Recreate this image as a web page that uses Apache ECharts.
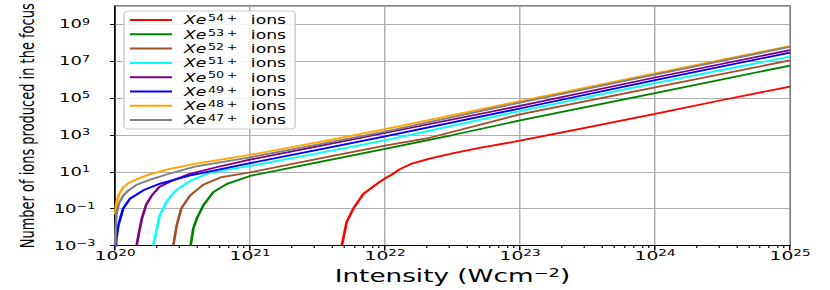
<!DOCTYPE html>
<html><head><meta charset="utf-8">
<script src="https://cdn.jsdelivr.net/npm/echarts@6/dist/echarts.min.js"></script>
<style>
html,body{margin:0;padding:0;background:#fff;overflow:hidden;}
#c{width:553.33px;height:290px;transform:scaleX(1.5);transform-origin:0 0;}
</style></head><body><div id="c"></div>
<script>
// ---- data ----
const seriesNames = ['Xe54+ ions','Xe53+ ions','Xe52+ ions','Xe51+ ions','Xe50+ ions','Xe49+ ions','Xe48+ ions','Xe47+ ions'];
const seriesColors = ['#ff0000','#008000','#a0522d','#00ffff','#800080','#0000ff','#ffa500','#808080'];

const intensityXe54 = [4.786e21, 5.2e21, 5.821e21, 6.918e21, 8.71e21, 1e22, 1.096e22, 1.288e22, 1.585e22, 2.138e22, 3.162e22, 5.012e22, 1e23, 3.162e23, 1e24, 3.162e24, 1e25];
const ionsXe54      = [1e-3, 0.019, 0.1, 0.646, 2.24, 4.47, 6.3, 14.1, 28.2, 52.5, 100, 200, 490, 2630, 1.41e4, 7.94e4, 4.27e5];

const intensityXe53 = [3.631e20, 3.802e20, 4.027e20, 4.508e20, 5.346e20, 6.761e20, 1e21, 3.162e21, 1e22, 3.162e22, 1e23, 1e24, 1e25];
const ionsXe53      = [1e-3, 8.3e-3, 0.0288, 0.151, 0.794, 2.24, 6.03, 33.1, 178, 1000, 6166, 1.86e5, 5.89e6];

const intensityXe52 = [2.704e20, 2.864e20, 3.090e20, 3.597e20, 4.508e20, 6.026e20, 1e21, 3.162e21, 1e22, 2.138e22, 1e23, 1e24, 1e25];
const ionsXe52      = [1e-3, 0.0126, 0.1, 0.525, 2.0, 5.01, 9.33, 50.1, 263, 708, 1.32e4, 3.8e5, 1.12e7];

const intensityXe51 = [1.923e20, 2.042e20, 2.138e20, 2.399e20, 2.630e20, 2.884e20, 3.597e20, 5.012e20, 1e21, 3.162e21, 1e22, 1e23, 1e24, 1e25];
const ionsXe51      = [1e-3, 8.3e-3, 0.04, 0.229, 0.562, 1.12, 3.16, 8.91, 20.9, 100, 513, 2.0e4, 6.46e5, 1.78e7];

const intensityXe50 = [1.445e20, 1.514e20, 1.585e20, 1.698e20, 1.862e20, 2.138e20, 2.692e20, 3.548e20, 5.623e20, 1e21, 3.162e21, 1e22, 1e23, 1e24, 1e25];
const ionsXe50      = [1e-3, 6.3e-3, 0.0316, 0.158, 0.5, 1.58, 3.55, 7.59, 17.8, 45.7, 240, 1288, 3.8e4, 1.32e6, 4.07e7];

const intensityXe49 = [1.012e20, 1.023e20, 1.059e20, 1.148e20, 1.288e20, 1.622e20, 2.138e20, 3.548e20, 5.623e20, 1e21, 3.162e21, 1e22, 1e23, 1e24, 1e25];
const ionsXe49      = [6.3e-4, 2.5e-3, 0.0126, 0.1, 0.347, 1.0, 2.24, 6.31, 12.6, 29.5, 158, 851, 2.75e4, 9.55e5, 2.95e7];

const intensityXe48 = [1e20, 1.023e20, 1.072e20, 1.148e20, 1.259e20, 1.445e20, 1.778e20, 2.512e20, 3.981e20, 1e21, 3.162e21, 1e22, 1e23, 1e24, 1e25];
const ionsXe48      = [0.05, 0.2, 0.63, 1.41, 2.51, 3.98, 7.08, 14.1, 28.2, 83.2, 398, 2089, 6.92e4, 2.24e6, 6.76e7];

const intensityXe47 = [1e20, 1.023e20, 1.072e20, 1.148e20, 1.259e20, 1.445e20, 1.778e20, 2.512e20, 3.981e20, 1e21, 3.162e21, 1e22, 1e23, 1e24, 1e25];
const ionsXe47      = [1e-3, 0.05, 0.2, 0.5, 1.0, 2.0, 3.55, 7.94, 20, 61.7, 302, 1514, 5.75e4, 1.91e6, 6.03e7];

const xMin = 1e20, xMax = 1e25;
const yMin = 1e-3, yMax = 1e10;
const minorTickValues = [2e20,3e20,4e20,5e20,6e20,7e20,8e20,9e20,
  2e21,3e21,4e21,5e21,6e21,7e21,8e21,9e21,
  2e22,3e22,4e22,5e22,6e22,7e22,8e22,9e22,
  2e23,3e23,4e23,5e23,6e23,7e23,8e23,9e23,
  2e24,3e24,4e24,5e24,6e24,7e24,8e24,9e24];
const xTitle = 'Intensity (Wcm{s|\u22122})';
const yTitle = 'Number of ions produced in the focus';

// ---- build ----
const intensities = [intensityXe54,intensityXe53,intensityXe52,intensityXe51,intensityXe50,intensityXe49,intensityXe48,intensityXe47];
const ions = [ionsXe54,ionsXe53,ionsXe52,ionsXe51,ionsXe50,ionsXe49,ionsXe48,ionsXe47];

function expText(v){
  const e = Math.round(Math.log10(v));
  return e < 0 ? '\u2212' + (-e) : String(e);
}

const chart = echarts.init(document.getElementById('c'), null, {renderer:'svg', width:553.33, height:290});
const option = {
  animation:false,
  backgroundColor:'#fff',
  textStyle:{fontFamily:'DejaVu Sans', color:'#000'},
  grid:{left:76.67, right:26.67, top:6, bottom:43, show:true, borderColor:'#000', borderWidth:1, backgroundColor:'transparent'},
  legend:{
    orient:'vertical', left:82.67, top:11,
    padding:[3,6,3,4], itemGap:2.3, itemWidth:28, itemHeight:2, icon:'rect',
    backgroundColor:'rgba(255,255,255,0.85)', borderColor:'#cccccc', borderWidth:1, borderRadius:3,
    data:seriesNames,
    formatter:function(name){
      const q = name.match(/\d+/)[0];
      return '{x|Xe}{q|' + q + '\u2009+}{g|}{t|ions}';
    },
    textStyle:{
      padding:[0,0,0,3],
      rich:{
        x:{fontStyle:'italic', fontFamily:'DejaVu Sans', fontSize:11.5, lineHeight:12, color:'#000'},
        q:{fontFamily:'DejaVu Sans', fontSize:8.5, lineHeight:8, verticalAlign:'top', color:'#000', padding:[0,0,0,1]},
        g:{width:9},
        t:{fontFamily:'DejaVu Sans', fontSize:11.5, lineHeight:12, color:'#000'}
      }
    }
  },
  xAxis:[{
    type:'log', logBase:10, min:xMin, max:xMax, interval:1,
    name:xTitle, nameLocation:'middle', nameGap:17,
    nameTextStyle:{fontSize:17.5, color:'#000', rich:{s:{fontSize:12, verticalAlign:'top', lineHeight:10, color:'#000'}}},
    axisLine:{show:true, lineStyle:{color:'#000', width:1}},
    axisTick:{show:true, inside:false, length:5, lineStyle:{color:'#000', width:1}},
    axisLabel:{margin:3, color:'#000',
      formatter:function(v){ return '{b|10}{s|' + expText(v) + '}'; },
      rich:{b:{fontSize:12.5, lineHeight:14, color:'#000'}, s:{fontSize:9, lineHeight:9, verticalAlign:'top', color:'#000'}}
    },
    splitLine:{show:true, lineStyle:{color:'#b0b0b0', width:1}}
  },{
    type:'log', logBase:10, min:xMin, max:xMax, position:'bottom', gridIndex:0,
    axisLine:{show:false}, axisLabel:{show:false}, splitLine:{show:false},
    axisTick:{show:true, length:2.5, customValues:minorTickValues, lineStyle:{color:'#000', width:0.8}}
  }],
  yAxis:{
    type:'log', logBase:10, min:yMin, max:yMax, interval:2,
    name:yTitle, nameLocation:'middle', nameGap:52,
    nameTextStyle:{fontSize:13, color:'#000'},
    axisLine:{show:true, lineStyle:{color:'#000', width:1}},
    axisTick:{show:true, length:3.3, lineStyle:{color:'#000', width:1}},
    axisLabel:{margin:27, align:'center', color:'#000', showMaxLabel:false,
      formatter:function(v){ const e = Math.round(Math.log10(v)); if (e > 9) return ''; return '{b|10}{s|' + expText(v) + '}'; },
      rich:{b:{fontSize:12, lineHeight:14, color:'#000'}, s:{fontSize:8.5, lineHeight:9, verticalAlign:'top', color:'#000'}}
    },
    splitLine:{show:true, lineStyle:{color:'#b0b0b0', width:1}}
  },
  series: seriesNames.map(function(n,i){
    return {
      name:n, type:'line', xAxisIndex:0, yAxisIndex:0,
      showSymbol:false, symbol:'none', clip:true,
      color:seriesColors[i],
      lineStyle:{color:seriesColors[i], width:1.8},
      data: intensities[i].map(function(x,k){ return [x, ions[i][k]]; })
    };
  })
};
chart.setOption(option);
</script>
</body></html>
